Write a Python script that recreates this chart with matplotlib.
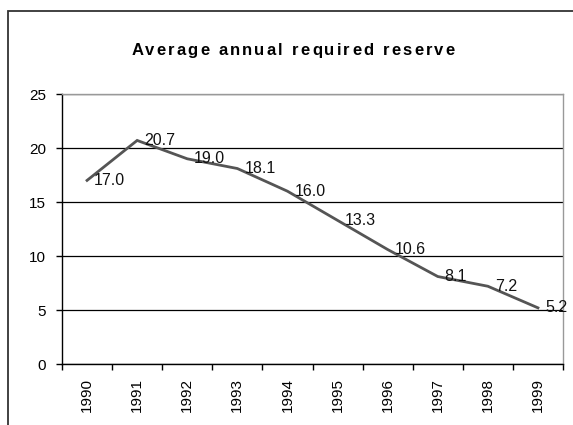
import matplotlib

matplotlib.use("Agg")
import matplotlib.pyplot as plt
from matplotlib.patches import Rectangle

plt.rcParams["font.family"] = ["Liberation Sans", "DejaVu Sans"]

years = ["1990", "1991", "1992", "1993", "1994", "1995", "1996", "1997", "1998", "1999"]
reserve = [17.0, 20.7, 19.0, 18.1, 16.0, 13.3, 10.6, 8.1, 7.2, 5.2]
title = "Average annual required reserve"

W, H = 573, 425
fig = plt.figure(figsize=(W / 100, H / 100), dpi=100)

# chart frame, only the top and left edges fall inside the image
fig.patches.append(Rectangle((8 / W, -0.1), 1.2, (H - 11) / H + 0.1,
                             transform=fig.transFigure, fill=False,
                             edgecolor="#333333", linewidth=1.3))

ax = fig.add_axes([62 / W, (H - 364) / H, (563 - 62) / W, (364 - 94) / H])
x = list(range(len(years)))
ax.plot(x, reserve, color="#555555", linewidth=2.0, solid_joinstyle="miter", zorder=3)
for xi, v in zip(x, reserve):
    ax.annotate("{:.1f}".format(v), (xi, v), xytext=(5, 0), textcoords="offset points",
                ha="left", va="center", fontsize=11.5, color="#111111", zorder=4)

ax.set_xlim(-0.5, len(years) - 0.5)
ax.set_ylim(0, 25)
ax.set_yticks([0, 5, 10, 15, 20, 25])
ax.grid(True, axis="y", color="black", linewidth=0.9)
ax.set_axisbelow(True)

# category boundaries carry the ticks, labels sit between them
ax.set_xticks([i - 0.5 for i in range(len(years) + 1)])
ax.set_xticklabels([])
ax.set_xticks(x, minor=True)
ax.set_xticklabels(years, minor=True, rotation=90, fontsize=11)
ax.tick_params(axis="x", which="major", length=4.5, width=1, color="black")
ax.tick_params(axis="x", which="minor", length=0, pad=10)
ax.tick_params(axis="y", length=4.5, width=1, labelsize=11, pad=7)

for side in ("top", "right"):
    ax.spines[side].set_color("#999999")
    ax.spines[side].set_linewidth(1.0)
for side in ("left", "bottom"):
    ax.spines[side].set_color("black")
    ax.spines[side].set_linewidth(1.0)

# letter-spaced title, laid out one glyph at a time
renderer = fig.canvas.get_renderer()
title_size = 12
spacing = 2.2


def text_width(s):
    probe = fig.text(0, 0, s, fontsize=title_size, fontweight="bold")
    w = probe.get_window_extent(renderer).width
    probe.remove()
    return w


total = text_width(title) + spacing * (len(title) - 1)
x0 = 293 - total / 2
for i, ch in enumerate(title):
    offset = text_width(title[:i]) if i else 0.0
    fig.text((x0 + offset + spacing * i) / W, 1 - 49 / H, ch, ha="left", va="center_baseline",
             fontsize=title_size, fontweight="bold")

fig.savefig("out.png", dpi=100)
